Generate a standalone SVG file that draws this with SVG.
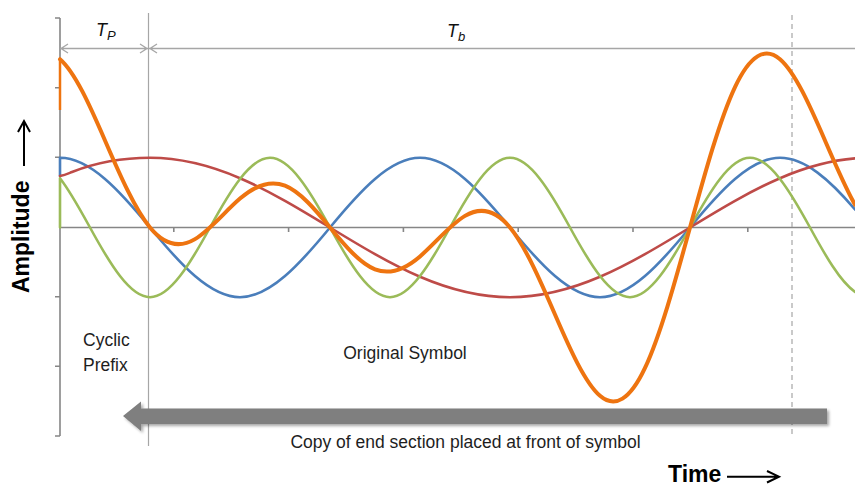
<svg xmlns="http://www.w3.org/2000/svg" width="855" height="485" viewBox="0 0 855 485">
<defs>
<style>
.ax{stroke:#868686;stroke-width:1.6;fill:none}
.grid{stroke:#a6a6a6;stroke-width:1.2;fill:none}
.dim{stroke:#a6a6a6;stroke-width:1.3;fill:none}
.wave{fill:none;stroke-linejoin:round;stroke-linecap:round}
.lbl{font-family:"Liberation Sans",Arial,sans-serif;fill:#1e1e1e}
.big{font-family:"Liberation Sans",Arial,sans-serif;font-weight:bold;font-size:23px;fill:#000}
.it{font-family:"Liberation Sans",Arial,sans-serif;font-style:italic;fill:#111}
</style>
<filter id="sh" x="-5%" y="-50%" width="110%" height="200%">
<feGaussianBlur in="SourceAlpha" stdDeviation="1.5"/>
<feOffset dx="2" dy="2" result="b"/>
<feComponentTransfer><feFuncA type="linear" slope="0.35"/></feComponentTransfer>
<feMerge><feMergeNode/><feMergeNode in="SourceGraphic"/></feMerge>
</filter>
</defs>
<rect width="855" height="485" fill="#fff"/>

<g id="axes">
<path class="ax" d="M60,18V436M55,18H60M55,87.7H60M55,157.3H60M55,296.7H60M55,366.3H60M55,436H60"/>
<path class="ax" d="M60,227.5H855M173.8,227.5V232M288.6,227.5V232M403.4,227.5V232M518.2,227.5V232M633,227.5V232M747.8,227.5V232"/>
</g>

<g id="markers">
<path class="grid" d="M148.5,13V446"/>
<path class="grid" d="M792,15V437" stroke-dasharray="5,4"/>
<path class="dim" d="M60,48.5H855M68,44L61,48.5L68,53M140,44L147,48.5L140,53M157,44L150,48.5L157,53"/>
<text class="it" x="96" y="36" font-size="18">T<tspan font-size="13" dy="4">P</tspan></text>
<text class="it" x="447" y="37" font-size="18">T<tspan font-size="13" dy="4">b</tspan></text>
</g>

<g id="waves">
<path class="wave" stroke="#4a7ebb" stroke-width="2.6" d="M60,176V157.8C90,157.8 120,191 150,227.5C180,264 210,297.2 240,297.2C270,297.2 300,264 330,227.5C360,191 390,157.8 420,157.8C450,157.8 480,191 510,227.5C540,264 570,297.2 600,297.2C630,297.2 660,264 690,227.5C720,191 750,157.8 780,157.8C805,157.8 830,180.1 855,209.5"/>
<path class="wave" stroke="#be4b48" stroke-width="2.6" d="M60,176C65,175 67,174 72,172C95,163 120,157.8 150,157.8C180,157.8 210,165.3 240,178.2C270,191.1 300,209.25 330,227.5C360,245.75 390,263.9 420,276.8C450,289.7 480,297.2 510,297.2C540,297.2 570,289.7 600,276.8C630,263.9 660,245.75 690,227.5C720,209.25 750,191.1 780,178.2C805,167.45 830,160.4 855,158.4"/>
<path class="wave" stroke="#9bbb59" stroke-width="2.6" d="M60,227.5V178.2C70,191.1 80,209.25 90,227.5C110,264 130,297.2 150,297.2C170,297.2 190,264 210,227.5C230,191 250,157.8 270,157.8C290,157.8 310,191 330,227.5C350,264 370,297.2 390,297.2C410,297.2 430,264 450,227.5C470,191 490,157.8 510,157.8C530,157.8 550,191 570,227.5C590,264 610,297.2 630,297.2C650,297.2 670,264 690,227.5C710,191 730,157.8 750,157.8C770,157.8 790,191 810,227.5C825,254.9 840,281.4 855,291.9"/>
<path class="wave" stroke="#ee7410" stroke-width="4" d="M60,59.2C75,72.1 90,105.8 105,140.5C120,175.2 135,209.25 150,227.5C165,245.75 180,248 195,239.1C210,230.2 225,211.5 240,198.6C255,185.7 270,179.7 285,185.7C300,191.7 315,209.25 330,227.5C345,245.75 360,263.3 375,269.3C390,275.3 405,269.3 420,256.4C435,243.5 450,224.8 465,215.9C480,207 495,209.25 510,227.5C525,245.75 540,279.8 555,314.5C570,349.2 585,382.9 600,395.8C615,408.7 630,399.7 645,367.9C660,336.1 675,282.2 690,227.5C705,172.8 720,118.9 735,87.1C750,55.3 765,46.3 780,59.2C795,72.1 810,105.8 825,140.5C835,163.6 845,186.9 855,204.8"/>
<path stroke="#ee7410" stroke-width="2.5" fill="none" d="M60,59V110"/>
</g>

<g id="copy-arrow">
<path filter="url(#sh)" fill="#7f7f7f" d="M123,416L141,401.5V408.5H827V424H141V431Z"/>
</g>

<g id="labels">
<text class="lbl" x="83" y="345.5" font-size="17.5">Cyclic</text>
<text class="lbl" x="83" y="371" font-size="17.5">Prefix</text>
<text class="lbl" x="405" y="359" font-size="17.5" text-anchor="middle">Original Symbol</text>
<text class="lbl" x="465.5" y="447.5" font-size="17.5" text-anchor="middle">Copy of end section placed at front of symbol</text>
<text class="big" transform="translate(29,293) rotate(-90)">Amplitude</text>
<path d="M24,166V122M18,132L24,121L30,132" stroke="#000" stroke-width="2" fill="none"/>
<text class="big" x="668" y="481.5">Time</text>
<path d="M727,476.7H778M767,471L779,476.7L767,482.5" stroke="#000" stroke-width="2" fill="none"/>
</g>
</svg>
